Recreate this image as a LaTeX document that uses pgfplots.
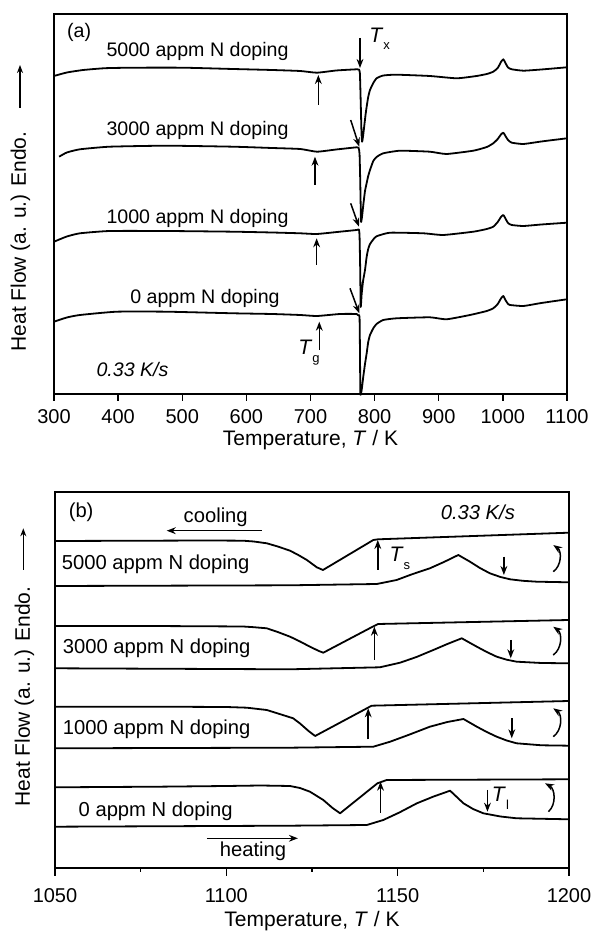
\documentclass[border=0pt]{standalone}
\usepackage{fontspec}
\setmainfont{Liberation Sans}
\usepackage{pgfplots}
\pgfplotsset{compat=1.18}
\usetikzlibrary{arrows.meta}
\newcommand{\sub}[2][4pt]{\raisebox{-#1}{\fontsize{6.5}{7}\selectfont #2}}
\tikzset{ann/.style={-{Stealth[length=4.5pt,width=3.4pt]}, line width=0.75pt}}
\begin{document}
\begin{tikzpicture}
\useasboundingbox (0,0) rectangle (296pt,466pt);
\pgfplotsset{
  myaxis/.style={
    scale only axis, anchor=south west, clip=false,
    ytick=\empty, tick align=outside, xtick pos=bottom,
    axis line style={line width=0.75pt},
    every tick/.style={black, line width=0.7pt},
    xticklabel style={font=\fontsize{10}{12}\selectfont, anchor=center},
    /pgf/number format/assume math mode=true,
    /pgf/number format/1000 sep={},
    cycle list={{black, solid, mark=none}},
    every axis plot post/.append style={line width=0.9pt, line join=round},
  },
}
% ---------------- panel (a)
\begin{axis}[myaxis, at={(27pt,269pt)}, width=256.5pt, height=190pt,
  xmin=300, xmax=1100, ymin=0, ymax=380,
  xtick={300,400,...,1100}, major tick length=3.3pt,
  xticklabel style={yshift=-8pt},
  every axis plot/.append style={smooth, tension=0.3}]
\addplot coordinates {(300,318) (320,321.5) (345.7,324) (380,325.8) (423,326.3) (501,326.3) (579,325) (640,324) (684,323) (710,321.3) (740,323.5) (772,324.7) (775.5,324.5) (777,321) (778,300) (779.5,262) (780.5,252.3) (782,258) (784,269) (786,280) (787.6,287.3) (790,297) (792.8,304) (797.9,311) (803,315.7) (813.5,318.5) (834,319.3) (886,318) (928,315.7) (959,318) (975,320) (985,322.3) (992,326) (997,332) (1000.7,334.7) (1004,331) (1008,326.5) (1013.8,324.7) (1032,323.3) (1060,324.5) (1100,326.7)};
\addplot coordinates {(308,237.3) (320,241.5) (340.5,244.7) (387,247.3) (476,248.3) (579,247.3) (640,246) (684,245) (710,242.3) (740,244.5) (772,246.7) (775,246.3) (776.5,240) (777.5,215) (778.5,180) (779,172) (780.5,178) (782.5,190) (785,203) (787.6,211) (790,218) (792.8,224) (797.9,233) (803,237) (813.5,240.7) (839.6,243.3) (886,242.3) (912,240) (954,243.3) (975,247) (985,250.7) (992,255) (997,259.5) (1000.7,261.3) (1004,258) (1008,254) (1013.8,251.3) (1032,250) (1060,252.5) (1100,255.7)};
\addplot coordinates {(300,152.3) (320,157.5) (340.5,160.7) (387,163) (476,163) (579.6,162.3) (640,161.5) (684,160.7) (709.7,160) (746,162.3) (772,164) (775.5,164.5) (776.5,158) (777.5,125) (778.3,87) (779.8,100) (782,113) (785,124) (787.6,137.3) (790,145) (792.8,150) (797.9,154.5) (803,157.7) (824,161.3) (876,160.7) (907,159) (954,162.3) (975,165) (985,167.3) (992,172) (997,177) (1000.7,179) (1004,175.5) (1008,171) (1013.8,169) (1032,168) (1060,169.5) (1100,171.3)};
\addplot coordinates {(300,72.3) (320,76.5) (340.5,79) (397.8,82.3) (476,82.3) (579.6,80.7) (640,80) (684,79) (710,78) (746,80) (772,80) (775,78.5) (776.5,77) (777.2,40) (777.8,0) (779.8,4) (782.3,17.3) (785,30) (787.6,40.7) (790,52) (792.8,59) (797.9,65.7) (803,70) (813.5,74) (834.4,75.7) (886,76.7) (912,74.7) (948.7,79) (975,83) (985,85.7) (992,90) (997,95.5) (1000.7,98) (1004,94) (1008,90) (1011,89) (1032,88) (1060,91) (1100,94.7)};
\begin{scope}[font=\fontsize{9.8}{12}\selectfont]
\node[anchor=base west] at (axis cs:309.4,356) {(a)};
\node[anchor=base] at (axis cs:523.8,337.3) {5000 appm N doping};
\node[anchor=base] at (axis cs:523.8,258) {3000 appm N doping};
\node[anchor=base] at (axis cs:523.8,170) {1000 appm N doping};
\node[anchor=base] at (axis cs:535.5,90.7) {0 appm N doping};
\node[anchor=base] at (axis cs:422.4,17.3) {\textit{0.33 K/s}};
\node[anchor=base west, inner sep=0pt, font=\fontsize{10.5}{12}\selectfont] at (axis cs:791.2,351) {\textit{T}\sub[3.5pt]{x}};
\node[anchor=base west, inner sep=0pt, font=\fontsize{10.5}{12}\selectfont] at (axis cs:680.5,39) {\textit{T}\sub{g}};
\end{scope}
\draw[ann] (axis cs:777.2,356) -- (axis cs:777.2,326);
\draw[ann] (axis cs:712.2,289) -- (axis cs:712.2,319);
\draw[ann] (axis cs:707,209) -- (axis cs:707,237.3);
\draw[ann] (axis cs:709.6,129) -- (axis cs:709.6,155.7);
\draw[ann] (axis cs:713.7,44) -- (axis cs:713.7,72.3);
\draw[ann] (axis cs:762.7,274) -- (axis cs:776.1,247.3);
\draw[ann] (axis cs:762.7,190.7) -- (axis cs:775.6,167.3);
\draw[ann] (axis cs:761.6,105.7) -- (axis cs:776.1,80.7);
\end{axis}
% ---------------- panel (b)
\begin{axis}[myaxis, at={(27.5pt,32pt)}, width=257pt, height=188pt,
  xmin=1050, xmax=1200, ymin=0, ymax=376,
  xtick={1050,1100,1150,1200}, minor xtick={1075,1125,1175},
  major tick length=3.8pt, minor tick length=1.8pt,
  xticklabel style={yshift=-10.25pt}]
% 5000
\addplot coordinates {(1050,327) (1077.7,327.3) (1095,327.5) (1104.9,327.3) (1108,326.5) (1111.8,324.7) (1115,321.5) (1118.6,317.3) (1121,313) (1123.5,308) (1126.4,300.7) (1128.2,298) (1142.9,328) (1144.3,328.7) (1200,335.3)};
\addplot coordinates {(1050,282) (1118.6,282.7) (1143.9,284) (1149.7,288) (1154,293.5) (1159.4,299.7) (1163.5,306) (1167.7,313) (1171.1,306.3) (1174,300) (1176.9,294.7) (1180,291) (1182.8,288.7) (1186.5,287.2) (1190.6,286.3) (1200,285.7)};
% 3000
\addplot coordinates {(1050,242) (1077.7,242) (1095,241.7) (1104.9,241.5) (1108,240.8) (1111.8,239.7) (1115,236) (1118.6,231.3) (1121.5,226.5) (1124.4,221.3) (1127,217) (1128.3,215.3) (1142.7,241.3) (1144.3,244) (1200,248)};
\addplot coordinates {(1050,199.7) (1118.6,198.7) (1144.8,200.7) (1150.7,205.3) (1155.5,211) (1160.4,218) (1164.5,224) (1168.7,229.7) (1173.1,221.3) (1176,216) (1178.9,211.3) (1181.8,208.3) (1184.7,206.3) (1192,205) (1200,204.7)};
% 1000
\addplot coordinates {(1050,161.3) (1080,161.3) (1100,161) (1106,160.3) (1111.8,158) (1116,153.5) (1119.5,149.7) (1121.5,144.5) (1124,137) (1125.9,132) (1141,159.7) (1142.4,162.3) (1200,167)};
\addplot coordinates {(1050,119.7) (1118.6,120.3) (1142.9,121.3) (1147.8,126.3) (1153.5,133.5) (1159.4,141.3) (1164.5,146) (1169.2,149) (1173.1,141.3) (1176,136) (1178.9,131.3) (1181.8,127.5) (1184.7,124.7) (1192,122.7) (1200,122.3)};
% 0
\addplot coordinates {(1050,80.7) (1080,81.3) (1100,82) (1110,82.5) (1118.6,82) (1121.5,80) (1124.4,76.3) (1128.3,68) (1131,60) (1133.2,54.7) (1144.1,84.7) (1146.8,88) (1200,88.7)};
\addplot coordinates {(1050,41.3) (1118.6,42.3) (1141,43) (1145.8,48) (1150.5,55.5) (1155.6,64.7) (1160.5,71.5) (1165.3,77.3) (1169.2,64.7) (1172,59) (1175,54.7) (1180,51.5) (1184.7,49.7) (1200,48.7)};
\begin{scope}[font=\fontsize{10.1}{12}\selectfont]
\node[anchor=base west] at (axis cs:1051.96,350) {(b)};
\node[anchor=base] at (axis cs:1096.9,345) {cooling};
\node[anchor=base] at (axis cs:1173.4,348.7) {\textit{0.33 K/s}};
\node[anchor=base west, inner sep=0pt] at (axis cs:1051.9,298) {5000 appm N doping};
\node[anchor=base west, inner sep=0pt] at (axis cs:1052.2,214.7) {3000 appm N doping};
\node[anchor=base west, inner sep=0pt] at (axis cs:1052.2,133) {1000 appm N doping};
\node[anchor=base west, inner sep=0pt] at (axis cs:1056.8,51.3) {0 appm N doping};
\node[anchor=base] at (axis cs:1107.8,11.3) {heating};
\node[anchor=base west, inner sep=0pt, font=\fontsize{10.5}{12}\selectfont] at (axis cs:1147.5,306.3) {\textit{T}\sub{s}};
\node[anchor=base west, inner sep=0pt, font=\fontsize{10.5}{12}\selectfont] at (axis cs:1177.4,66.3) {\textit{T}\sub{l}};
\end{scope}
\draw[ann] (axis cs:1110.3,337.3) -- (axis cs:1082.6,337.3);
\draw[ann] (axis cs:1094.3,29.7) -- (axis cs:1120.9,29.7);
\draw[ann] (axis cs:1144.2,298) -- (axis cs:1144.2,328);
\draw[ann] (axis cs:1143.2,208) -- (axis cs:1143.2,241.3);
\draw[ann] (axis cs:1141.4,128.7) -- (axis cs:1141.4,159.7);
\draw[ann] (axis cs:1145,55.3) -- (axis cs:1145,86.3);
\draw[ann] (axis cs:1181,311.3) -- (axis cs:1181,293);
\draw[ann] (axis cs:1183,228) -- (axis cs:1183,209.7);
\draw[ann] (axis cs:1183.3,149.7) -- (axis cs:1183.3,129.7);
\draw[ann] (axis cs:1176.2,78) -- (axis cs:1176.2,56.3);
\draw[ann] (axis cs:1195.4,296.3) to[bend right=55] (axis cs:1195.4,323);
\draw[ann] (axis cs:1195.4,213) to[bend right=55] (axis cs:1195.4,241.3);
\draw[ann] (axis cs:1195.4,131.3) to[bend right=55] (axis cs:1195.4,159.7);
\draw[ann] (axis cs:1194,56.3) to[bend right=55] (axis cs:1193,84.7);
\end{axis}
% axis titles
\begin{scope}[font=\fontsize{10.5}{12}\selectfont]
\node at (155.25pt,246pt) {Temperature, \textit{T} / K};
\node at (156pt,5.5pt) {Temperature, \textit{T} / K};
\node[rotate=90] at (10.25pt,345.25pt) {Heat Flow (a. u.) Endo.};
\node[rotate=90] at (12.25pt,117.7pt) {Heat Flow (a. u.) Endo.};
\draw[-{Stealth[length=4pt,width=3pt]}, line width=0.7pt] (10pt,412pt) -- (10pt,433.5pt);
\draw[-{Stealth[length=4pt,width=3pt]}, line width=0.7pt] (11.65pt,181pt) -- (11.65pt,201.85pt);
\end{scope}
\end{tikzpicture}
\end{document}
